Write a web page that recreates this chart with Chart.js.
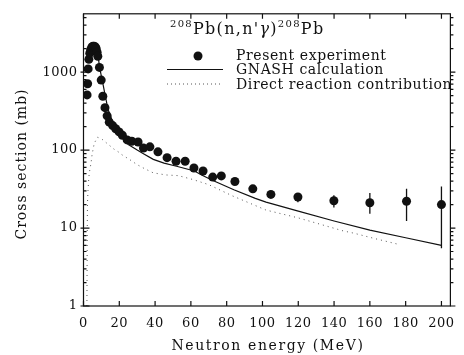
<!DOCTYPE html>
<html>
<head>
<meta charset="utf-8">
<script src="https://cdn.jsdelivr.net/npm/chart.js@4.4.1/dist/chart.umd.min.js"></script>
<style>
  html, body { margin: 0; padding: 0; background: #fff; }
</style>
</head>
<body>
<canvas id="xsChart" width="464" height="355"></canvas>
<script>
// measured 208Pb(n,n'g) cross sections
const expE   = [2.0, 2.3, 2.6, 3.0, 3.5, 4.0, 4.7, 5.3, 6.0, 6.6, 7.1, 7.6, 8.0, 8.9, 9.9, 10.8, 12.0, 13.2, 14.4, 16.3, 18.0, 19.9, 21.7, 24.4, 27.0, 30.5, 33.5, 37.1, 41.6, 46.7, 51.7, 56.8, 61.7, 66.8, 72.2, 77.0, 84.6, 94.6, 104.7, 119.8, 139.9, 160.0, 180.5, 200.0];
const expXs  = [510, 710, 1100, 1460, 1750, 1940, 2100, 2150, 2150, 2100, 2000, 1800, 1600, 1150, 790, 490, 350, 275, 228, 206, 188, 171, 155, 135, 130, 127, 106, 110, 95, 80, 72, 72, 59, 54, 45, 46.6, 39.5, 31.8, 27, 25, 22.4, 21.1, 22.1, 20];
const errLow  = [null, null, null, null, null, null, null, null, null, null, null, null, null, null, null, null, null, null, null, null, null, null, null, null, null, null, null, null, null, null, null, null, null, 51, 40, 44, 36, 29, 24.5, 21.5, 18.4, 15.3, 12.3, 5.5];
const errHigh = [null, null, null, null, null, null, null, null, null, null, null, null, null, null, null, null, null, null, null, null, null, null, null, null, null, null, null, null, null, null, null, null, null, 57, 48, 49, 42, 34, 29.5, 27.5, 26.4, 28.1, 31.8, 34];

// GNASH model curve
const gnashE  = [5, 6.5, 8, 9, 10, 11, 12, 13, 14, 16, 18, 20, 22, 25, 30, 33, 39, 45, 52, 62, 66, 72, 84, 96, 102, 120, 140, 160, 180, 200];
const gnashXs = [2000, 2100, 1700, 1150, 880, 680, 520, 400, 320, 240, 195, 165, 140, 118, 100, 91, 76, 68, 62, 54, 48, 41, 31, 24, 21.5, 16.5, 12.3, 9.4, 7.5, 6];

// direct reaction part
const directE  = [1.9, 2.0, 2.1, 2.2, 2.5, 3.0, 3.3, 4.2, 4.8, 6.0, 7.8, 10, 13.3, 17, 19.7, 21.5, 26, 30, 34, 39, 46, 53, 61, 70, 83, 102, 120, 145, 151, 162, 177];
const directXs = [1, 3, 10, 20, 30, 45, 52, 68, 88, 122, 146, 140, 121, 103, 94, 87, 75, 65, 58, 51, 48, 47, 42, 36, 26, 17, 13.5, 9.2, 8.6, 7.4, 6.1];

const xTicks = [0, 20, 40, 60, 80, 100, 120, 140, 160, 180, 200];
const yTicks = [1, 10, 100, 1000];

const legendLabels = ['Present experiment', 'GNASH calculation', 'Direct reaction contribution'];
const xTitle = 'Neutron energy (MeV)';
const yTitle = 'Cross section (mb)';

const pts = (xs, ys) => xs.map((v, i) => ({ x: v, y: ys[i] }));

const FONT = 'DejaVu Serif';
const INK = '#111';

const frame = {
  id: 'frame',
  beforeDraw(chart) {
    chart.ctx.letterSpacing = '0.5px';
  },
  afterDatasetsDraw(chart) {
    const { ctx, chartArea: a, scales: { x, y } } = chart;
    ctx.save();
    ctx.strokeStyle = INK;
    ctx.lineWidth = 1.2;
    ctx.strokeRect(a.left, a.top, a.right - a.left, a.bottom - a.top);
    ctx.beginPath();
    xTicks.forEach(v => {
      const px = x.getPixelForValue(v);
      ctx.moveTo(px, a.bottom); ctx.lineTo(px, a.bottom - 5);
      ctx.moveTo(px, a.top); ctx.lineTo(px, a.top + 5);
    });
    for (let d = 1; d <= 1000; d *= 10) {
      for (let m = 1; m < 10; m++) {
        const v = d * m;
        if (v > y.max) break;
        const py = y.getPixelForValue(v);
        const len = m === 1 ? 6 : 3;
        ctx.moveTo(a.left - (m === 1 ? 3 : 0), py); ctx.lineTo(a.left + len, py);
        ctx.moveTo(a.right, py); ctx.lineTo(a.right + (m === 1 ? 5 : 3), py);
      }
    }
    ctx.stroke();

    // error bars
    ctx.lineWidth = 1.3;
    ctx.beginPath();
    expE.forEach((e, i) => {
      if (errLow[i] == null) return;
      const px = x.getPixelForValue(e);
      ctx.moveTo(px, y.getPixelForValue(errLow[i]));
      ctx.lineTo(px, y.getPixelForValue(errHigh[i]));
    });
    ctx.stroke();
    ctx.restore();
  },
  afterDraw(chart) {
    const { ctx, chartArea: a } = chart;
    ctx.save();
    ctx.fillStyle = INK;
    ctx.strokeStyle = INK;

    // axis titles
    ctx.font = '14px ' + FONT;
    ctx.textAlign = 'center';
    ctx.textBaseline = 'middle';
    ctx.letterSpacing = '1.6px';
    ctx.fillText(xTitle, (a.left + a.right) / 2 + 1, 346);
    ctx.letterSpacing = '1px';
    ctx.save();
    ctx.translate(22, 164);
    ctx.rotate(-Math.PI / 2);
    ctx.fillText(yTitle, 0, 0);
    ctx.restore();

    // reaction label with superscript mass numbers
    ctx.textAlign = 'left';
    ctx.textBaseline = 'alphabetic';
    ctx.letterSpacing = '1.3px';
    let tx = 170;
    const parts = [
      { t: '208', f: '10px ' + FONT, y: 27 },
      { t: "Pb(n,n'", f: '16px ' + FONT, y: 34 },
      { t: '\u03b3', f: 'italic 16px ' + FONT, y: 34 },
      { t: ')', f: '16px ' + FONT, y: 34 },
      { t: '208', f: '10px ' + FONT, y: 27 },
      { t: 'Pb', f: '16px ' + FONT, y: 34 }
    ];
    parts.forEach(p => {
      ctx.font = p.f;
      ctx.fillText(p.t, tx, p.y);
      tx += ctx.measureText(p.t).width;
    });

    // legend
    ctx.font = '14px ' + FONT;
    ctx.letterSpacing = '0.6px';
    ctx.textBaseline = 'middle';
    const rows = [56, 70, 85];
    legendLabels.forEach((s, i) => ctx.fillText(s, 236, rows[i]));
    ctx.beginPath();
    ctx.arc(198, rows[0], 4.5, 0, Math.PI * 2);
    ctx.fill();
    ctx.lineWidth = 1.2;
    ctx.beginPath();
    ctx.moveTo(167, rows[1] - 0.5); ctx.lineTo(223, rows[1] - 0.5);
    ctx.stroke();
    ctx.lineWidth = 1;
    ctx.strokeStyle = '#555';
    ctx.setLineDash([1, 3]);
    ctx.beginPath();
    ctx.moveTo(167, rows[2] - 1); ctx.lineTo(222, rows[2] - 1);
    ctx.stroke();
    ctx.restore();
  }
};

Chart.defaults.font.family = FONT;
Chart.defaults.font.size = 13;
Chart.defaults.color = INK;

new Chart(document.getElementById('xsChart'), {
  type: 'scatter',
  data: {
    datasets: [
      {
        label: legendLabels[0],
        data: pts(expE, expXs),
        pointRadius: 4.5,
        pointBackgroundColor: INK,
        pointBorderColor: INK,
        pointBorderWidth: 0,
        showLine: false,
        order: 0
      },
      {
        label: legendLabels[1],
        type: 'line',
        data: pts(gnashE, gnashXs),
        borderColor: INK,
        borderWidth: 1.2,
        pointRadius: 0,
        tension: 0,
        fill: false,
        order: 1
      },
      {
        label: legendLabels[2],
        type: 'line',
        data: pts(directE, directXs),
        borderColor: '#555',
        borderWidth: 1,
        borderDash: [1, 4],
        pointRadius: 0,
        tension: 0,
        fill: false,
        order: 2
      }
    ]
  },
  options: {
    responsive: false,
    animation: false,
    devicePixelRatio: 1,
    layout: { padding: { top: 5, right: 6, left: 0, bottom: 0 } },
    plugins: { legend: { display: false }, tooltip: { enabled: false } },
    scales: {
      x: {
        type: 'linear',
        min: 0,
        max: 205,
        grid: { display: false, drawTicks: false },
        border: { display: false },
        afterFit: s => { s.height = 49; },
        afterBuildTicks: s => { s.ticks = xTicks.map(v => ({ value: v })); },
        ticks: { padding: 10, maxRotation: 0, autoSkip: false }
      },
      y: {
        type: 'logarithmic',
        min: 1,
        max: 5600,
        grid: { display: false, drawTicks: false },
        border: { display: false },
        afterFit: s => { s.width = 83.5; },
        afterBuildTicks: s => { s.ticks = yTicks.map(v => ({ value: v })); },
        ticks: { padding: 6, autoSkip: false, callback: v => String(v) }
      }
    }
  },
  plugins: [frame]
});
</script>
</body>
</html>
